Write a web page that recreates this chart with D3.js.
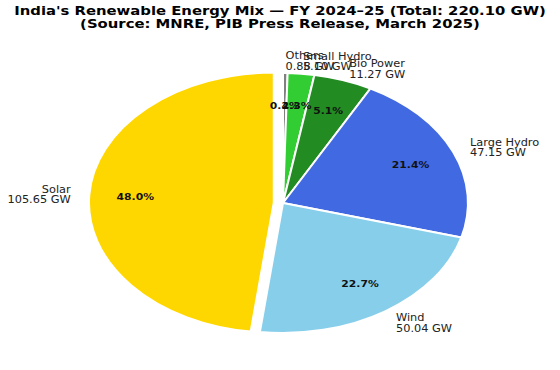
<!DOCTYPE html>
<html><head><meta charset="utf-8">
<script src="https://cdn.jsdelivr.net/npm/d3@7"></script>
<style>
html,body{margin:0;padding:0;background:#fff;}
svg{display:block;}
text{font-family:"DejaVu Sans",sans-serif;}
</style></head>
<body><svg id="chart" width="560" height="370"></svg>
<script>
const categories = ["Others", "Small Hydro", "Bio Power", "Large Hydro", "Wind", "Solar"];
const capacityGW = [0.88, 5.10, 11.27, 47.15, 50.04, 105.65];
const explodeBy = [0, 0, 0, 0, 0, 0.05];
const colors = ["#808080", "#32CD32", "#228B22", "#4169E1", "#87CEEB", "#FFD700"];
const titleLines = ["India's Renewable Energy Mix \u2014 FY 2024\u201325 (Total: 220.10 GW)",
                    "(Source: MNRE, PIB Press Release, March 2025)"];

const svg = d3.select("#chart");
const cx = 283, cy = 203, rx = 185, ry = 130;
const x = d3.scaleLinear().domain([-1, 1]).range([cx - rx, cx + rx]);
const y = d3.scaleLinear().domain([-1, 1]).range([cy + ry, cy - ry]);

const total = d3.sum(capacityGW);
const data = categories.map((c, i) => ({name: c, value: capacityGW[i], color: colors[i], explode: explodeBy[i]}));
const pie = d3.pie().value(d => d.value).sort(null).startAngle(0).endAngle(2 * Math.PI);
const arcs = pie(data);
const arc = d3.arc().innerRadius(0).outerRadius(1);

arcs.forEach(a => {
  const mid = (a.startAngle + a.endAngle) / 2;
  a.ux = Math.sin(mid); a.uy = Math.cos(mid);
  a.ox = a.data.explode * a.ux; a.oy = a.data.explode * a.uy;
});

svg.append("g").selectAll("path").data(arcs).join("path")
  .attr("transform", a => `translate(${x(a.ox)},${y(a.oy)}) scale(${rx},${ry})`)
  .attr("d", arc)
  .attr("fill", a => a.data.color)
  .attr("stroke", "#fff")
  .attr("stroke-width", 2)
  .attr("vector-effect", "non-scaling-stroke");

// labels (reference text is horizontally stretched)
const lab = svg.append("g").selectAll("text").data(arcs).join("text")
  .attr("font-size", 10.5)
  .attr("fill", "#222")
  .attr("text-anchor", a => a.ux > 0 ? "start" : "end")
  .attr("transform", a => `translate(${x(a.ox + 1.1 * a.ux)},${y(a.oy + 1.1 * a.uy)}) scale(1.08,1)`);
lab.append("tspan").attr("x", 0).attr("y", -1).text(a => a.data.name);
lab.append("tspan").attr("x", 0).attr("y", 9.8).text(a => d3.format(".2f")(a.data.value) + " GW");

// percentages
svg.append("g").selectAll("text").data(arcs).join("text")
  .attr("font-size", 8.5).attr("font-weight", "bold").attr("fill", "#111")
  .attr("text-anchor", "middle").attr("dominant-baseline", "central")
  .attr("transform", a => `translate(${x(a.ox + 0.75 * a.ux)},${y(a.oy + 0.75 * a.uy)}) scale(1.27,1)`)
  .text(a => d3.format(".1f")(a.data.value / total * 100) + "%");

// title
svg.append("g").selectAll("text").data(titleLines).join("text")
  .attr("transform", (d, i) => `translate(280,${15 + i * 13.2}) scale(1.29,1)`)
  .attr("text-anchor", "middle").attr("font-weight", "bold").attr("font-size", 11.5)
  .attr("fill", "#000")
  .text(d => d);
</script></body></html>
